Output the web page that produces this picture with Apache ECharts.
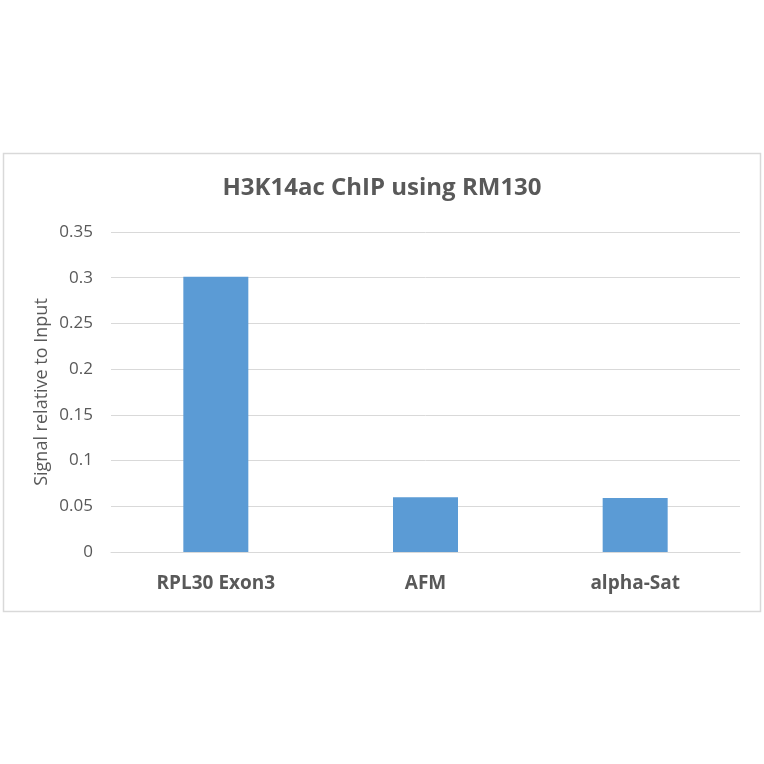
<!DOCTYPE html>
<html><head><meta charset="utf-8">
<script src="https://cdn.jsdelivr.net/npm/echarts@6/dist/echarts.min.js"></script>
<style>html,body{margin:0;padding:0;background:#fff}#c{width:764px;height:764px}</style>
</head><body><div id="c"></div>
<script>
const categories = ['RPL30 Exon3', 'AFM', 'alpha-Sat'];
const values = [0.301, 0.060, 0.059];
const yTicks = [0, 0.05, 0.1, 0.15, 0.2, 0.25, 0.3, 0.35];

const chart = echarts.init(document.getElementById('c'), null, {renderer: 'canvas'});
chart.setOption({
  animation: false,
  backgroundColor: '#fff',
  title: {
    text: 'H3K14ac ChIP using RM130',
    left: 'center', top: 171,
    textStyle: {fontFamily: 'Open Sans', fontSize: 24, fontWeight: 'bold', color: '#595959'}
  },
  graphic: [{
    type: 'rect', shape: {x: 3.5, y: 153.5, width: 757, height: 458},
    style: {fill: 'none', stroke: '#d9d9d9', lineWidth: 1.5}, silent: true
  }],
  grid: {left: 111, right: 24, top: 232, bottom: 212},
  xAxis: {
    type: 'category', data: categories,
    axisLine: {lineStyle: {color: '#d9d9d9'}},
    axisTick: {show: false},
    axisLabel: {fontFamily: 'Open Sans', fontSize: 19, fontWeight: 'bold', color: '#595959', margin: 22}
  },
  yAxis: {
    type: 'value', min: 0, max: 0.35, interval: 0.05,
    name: 'Signal relative to Input', nameLocation: 'middle', nameGap: 60, nameMoveOverlap: false,
    nameTextStyle: {fontFamily: 'Open Sans', fontSize: 18, color: '#595959'},
    axisLine: {show: false}, axisTick: {show: false},
    axisLabel: {fontFamily: 'Open Sans', fontSize: 17, color: '#595959', margin: 18,
      formatter: v => { const t = yTicks.find(x => Math.abs(x - v) < 1e-9); return t === undefined ? '' : String(+t.toFixed(2)); }},
    splitLine: {lineStyle: {color: '#d9d9d9', width: 1}}
  },
  series: [{
    type: 'bar', data: values, barWidth: '31%',
    itemStyle: {color: '#5b9bd5'}
  }]
});
</script></body></html>
